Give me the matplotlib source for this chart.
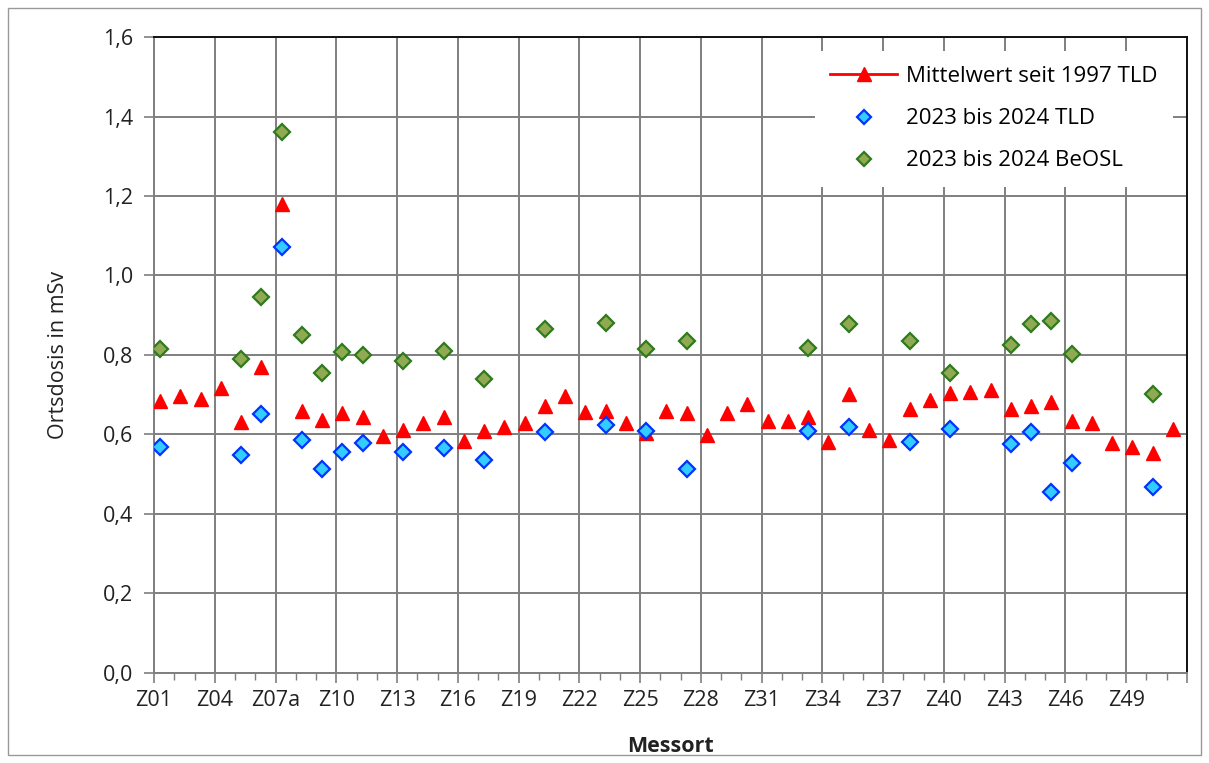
import matplotlib
matplotlib.use("Agg")
import matplotlib.pyplot as plt
from matplotlib.lines import Line2D
from matplotlib.patches import Rectangle
import numpy as np

plt.rcParams['font.family'] = ['Open Sans', 'DejaVu Sans']

# Messorte Z01..Z51 (Z07 is Z07a)
sites = ['Z%02d' % i for i in range(1, 52)]
sites[6] = 'Z07a'

# mean dose since 1997 (TLD), one value per site
mean_tld = [0.684, 0.696, 0.689, 0.717, 0.631, 0.770, 1.181, 0.659, 0.636, 0.653,
            0.643, 0.595, 0.611, 0.630, 0.645, 0.583, 0.609, 0.619, 0.630, 0.671,
            0.696, 0.657, 0.658, 0.630, 0.603, 0.659, 0.654, 0.598, 0.654, 0.676,
            0.635, 0.635, 0.643, 0.580, 0.701, 0.611, 0.585, 0.664, 0.687, 0.704,
            0.706, 0.713, 0.664, 0.671, 0.682, 0.633, 0.628, 0.579, 0.569, 0.553,
            0.615]

# 2023 bis 2024, TLD
tld_sites = ['Z01', 'Z05', 'Z06', 'Z07a', 'Z08', 'Z09', 'Z10', 'Z11', 'Z13', 'Z15',
             'Z17', 'Z20', 'Z23', 'Z25', 'Z27', 'Z33', 'Z35', 'Z38', 'Z40', 'Z43',
             'Z44', 'Z45', 'Z46', 'Z50']
tld_values = [0.569, 0.548, 0.652, 1.071, 0.587, 0.512, 0.556, 0.579, 0.556, 0.565,
              0.535, 0.606, 0.623, 0.609, 0.514, 0.608, 0.619, 0.581, 0.615, 0.575,
              0.606, 0.456, 0.529, 0.468]

# 2023 bis 2024, BeOSL
beosl_sites = tld_sites
beosl_values = [0.816, 0.791, 0.946, 1.362, 0.851, 0.755, 0.807, 0.801, 0.784, 0.809,
                0.739, 0.866, 0.880, 0.816, 0.834, 0.818, 0.877, 0.834, 0.755, 0.826,
                0.877, 0.885, 0.803, 0.701]

x_all = np.arange(len(sites))
x_tld = [sites.index(s) for s in tld_sites]
x_beosl = [sites.index(s) for s in beosl_sites]

fig = plt.figure(figsize=(12.09, 7.63), dpi=100)
ax = fig.add_axes([0.1274, 0.118, 0.9818 - 0.1274, 0.9515 - 0.118])

ax.plot(x_all, mean_tld, linestyle='none', marker='^', ms=9.5,
        color='#ff0000', mec='#ff0000', zorder=3)
ax.plot(x_beosl, beosl_values, linestyle='none', marker='D', ms=8,
        mfc='#8faa52', mec='#2f7a1c', mew=1.6, zorder=4)
ax.plot(x_tld, tld_values, linestyle='none', marker='D', ms=8,
        mfc='#33ccff', mec='#0033ff', mew=1.6, zorder=5)

# category gridlines sit between the sites
off = 0.3
ax.set_xlim(-off, len(sites) - off)
ax.set_ylim(0, 1.6)
major_x = np.arange(0, len(sites) + 1, 3) - off
ax.set_xticks(major_x)
ax.set_xticklabels([sites[i] if i < len(sites) - 2 else '' for i in range(0, len(sites) + 1, 3)])
ax.set_xticks(np.arange(0, len(sites) + 1) - off, minor=True)
yt = np.arange(0, 1.61, 0.2)
ax.set_yticks(yt)
ax.set_yticklabels([('%.1f' % v).replace('.', ',') for v in yt])

ax.grid(True, which='major', color='#7f7f7f', linewidth=1.4, zorder=0)
ax.set_axisbelow(True)
ax.tick_params(axis='both', which='major', direction='out', length=7,
               width=1.2, color='#7f7f7f', labelsize=15.5, labelcolor='#222222')
ax.tick_params(axis='x', which='minor', direction='out', length=5,
               width=1.0, color='#7f7f7f')
ax.tick_params(axis='x', which='major', pad=5)
ax.tick_params(axis='y', which='major', pad=8)

for side in ['left', 'bottom']:
    ax.spines[side].set_color('#7f7f7f')
    ax.spines[side].set_linewidth(1.4)
for side in ['top', 'right']:
    ax.spines[side].set_color('#111111')
    ax.spines[side].set_linewidth(1.4)

ax.set_xlabel('Messort', fontsize=15.5, fontweight='bold', color='#222222', labelpad=18)
ax.set_ylabel('Ortsdosis in mSv', fontsize=15.5, color='#222222', labelpad=24)

handles = [
    Line2D([], [], color='#ff0000', marker='^', ms=10, linewidth=2),
    Line2D([], [], linestyle='none', marker='D', ms=7, mfc='#33ccff', mec='#0033ff', mew=1.6),
    Line2D([], [], linestyle='none', marker='D', ms=7, mfc='#8faa52', mec='#2f7a1c', mew=1.6),
]
labels = ['Mittelwert seit 1997 TLD', '2023 bis 2024 TLD', '2023 bis 2024 BeOSL']
leg = ax.legend(handles, labels, loc='upper right', fontsize=16, frameon=True,
                facecolor='white', edgecolor='none', framealpha=1, fancybox=False,
                handlelength=3.0, handletextpad=0.4, labelspacing=0.95, borderpad=0.7,
                bbox_to_anchor=(0.997, 0.996))
leg.set_zorder(10)

fig.patches.append(Rectangle((0.007, 0.01), 0.986, 0.98, transform=fig.transFigure,
                             fill=False, edgecolor='#999999', linewidth=1.0))

fig.savefig('out.png', dpi=100)
